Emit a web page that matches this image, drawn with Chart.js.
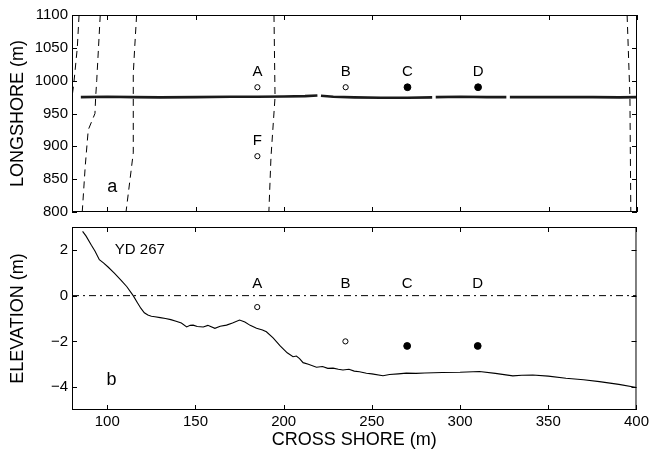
<!DOCTYPE html>
<html>
<head>
<meta charset="utf-8">
<script src="https://cdn.jsdelivr.net/npm/chart.js@4.4.0/dist/chart.umd.min.js"></script>
<style>
  html, body { margin: 0; padding: 0; background: #fff; }
  #wrap { position: relative; width: 652px; height: 451px; }
  #topBox { position: absolute; left: 0; top: 0; width: 652px; height: 225px; }
  #botBox { position: absolute; left: 0; top: 214px; width: 652px; height: 237px; }
</style>
</head>
<body>
<div id="wrap">
  <div id="topBox"><canvas id="topChart"></canvas></div>
  <div id="botBox"><canvas id="botChart"></canvas></div>
</div>
<script>
// --- DATA ---
const xTicks = [100, 150, 200, 250, 300, 350, 400];
const yTicksTop = [800, 850, 900, 950, 1000, 1050, 1100];
const yTicksBottom = [-4, -2, 0, 2];

// panel a: shoreline trace (gaps where the record drops out)
const shoreline = [[85, 975], [100, 975.5], [115, 975], [130, 974.5], [150, 975], [170, 975.5], [185, 975.5],
    [200, 976], [212, 976.5], [219, 977.5], [null, null], [221, 977], [228, 975.5], [240, 974.5], [255, 974],
    [270, 974], [284, 974.5], [null, null], [286, 975], [300, 975.5], [315, 975], [326, 975], [null, null],
    [328, 975], [345, 975], [360, 975], [375, 975], [390, 974.5], [400, 975]];

// panel a: dashed contours
const dash1 = [[84, 1100], [83, 1050], [81, 995], [80, 975]];
const dash2 = [[96, 1100], [95, 1050], [94, 1000], [93.4, 975], [93, 950], [89.2, 925], [87.5, 870], [85.8, 800]];
const dash3 = [[116.6, 1100], [115.5, 1050], [114.7, 1010], [114.7, 890], [110.6, 800]];
const dash4 = [[194.4, 1100], [195, 975], [192.7, 884], [191.5, 800]];
const dash5 = [[394.4, 1100], [396, 975], [396.2, 900], [396.5, 800]];

// panel a: instruments
const openTop = [[185, 990], [235, 990], [185, 885]];
const filledTop = [[270, 990], [310, 990]];
const labelsTop = ['A', 'B', 'C', 'D', 'F'];
const labelsTopX = [185, 235, 270, 310, 185];
const labelsTopY = [1014, 1014, 1014, 1014, 909];

// panel b: beach profile YD 267
const profile = [[86, 2.81], [88, 2.6], [91, 2.2], [93, 1.95], [95.5, 1.57], [98, 1.42], [100.6, 1.24], [104, 0.98],
    [108, 0.66], [111, 0.4], [114.7, 0.0], [117, -0.3], [119, -0.55], [121, -0.75], [123, -0.85], [125, -0.9],
    [127, -0.92], [130, -0.96], [133, -1.0], [136, -1.05], [139, -1.12], [142, -1.2], [145, -1.37], [147, -1.3],
    [148.7, -1.29], [151, -1.35], [154.4, -1.37], [157, -1.3], [161, -1.43], [164, -1.34], [167.6, -1.29],
    [171, -1.2], [175, -1.07], [178, -1.15], [181, -1.3], [184.6, -1.43], [188, -1.5], [190.2, -1.58],
    [194, -1.85], [198, -2.2], [202, -2.5], [205.3, -2.67], [207.2, -2.64], [209, -2.75], [211, -2.93],
    [214, -3.0], [218.6, -3.13], [222, -3.1], [225, -3.18], [228, -3.17], [231, -3.22], [233.6, -3.25],
    [237, -3.22], [240, -3.3], [243, -3.33], [246.9, -3.39], [250, -3.42], [256.3, -3.5], [260, -3.45],
    [265, -3.42], [269.5, -3.39], [275, -3.4], [280, -3.38], [290, -3.36], [300, -3.35], [311, -3.32],
    [320, -3.4], [329.9, -3.51], [335, -3.48], [341.2, -3.47], [350, -3.52], [360, -3.61], [370, -3.68],
    [379, -3.76], [390, -3.88], [400, -4.02]];
const meanLevel = [[80, 0], [400, 0]];
const openBot = [[185, -0.5], [235, -2.0]];
const filledBot = [[270, -2.2], [310, -2.2]];
const labelsBot = ['A', 'B', 'C', 'D'];
const labelsBotX = [185, 235, 270, 310];
const labelsBotY = [0.52, 0.52, 0.52, 0.52];

// --- HELPERS ---
const FONT = '"Liberation Sans", Arial, Helvetica, sans-serif';
const INK = '#000';

function pts(list) {
    return list.map(p => ({ x: p[0], y: p[1] }));
}

function makeLabels(texts, xs, ys, size) {
    return texts.map((t, i) => ({ text: t, x: xs[i], y: ys[i], size: size || 15, align: 'center' }));
}

function setTicks(values) {
    return function (scale) {
        scale.ticks = values.map(v => ({ value: v }));
    };
}

function minus(v) {
    return String(v).replace('-', '\u2212');
}

// frame, inward ticks and text annotations
const framePlugin = {
    id: 'frame',
    afterDraw(chart, args, opts) {
        const { ctx, chartArea: a, scales } = chart;
        const x = scales.x, y = scales.y;
        const tl = 5;
        ctx.save();
        ctx.strokeStyle = INK;
        ctx.lineWidth = 1;
        ctx.strokeRect(a.left + 0.5, a.top + 0.5, a.right - a.left - 1, a.bottom - a.top - 1);
        ctx.beginPath();
        xTicks.forEach(v => {
            const px = Math.round(x.getPixelForValue(v)) + 0.5;
            ctx.moveTo(px, a.bottom); ctx.lineTo(px, a.bottom - tl);
            ctx.moveTo(px, a.top); ctx.lineTo(px, a.top + tl);
        });
        (opts.yTicks || []).forEach(v => {
            const py = Math.round(y.getPixelForValue(v)) + 0.5;
            ctx.moveTo(a.left, py); ctx.lineTo(a.left + tl, py);
            ctx.moveTo(a.right, py); ctx.lineTo(a.right - tl, py);
        });
        ctx.stroke();

        ctx.fillStyle = INK;
        ctx.textBaseline = 'middle';
        (opts.labels || []).forEach(l => {
            ctx.font = l.size + 'px ' + FONT;
            ctx.textAlign = l.align;
            ctx.fillText(l.text, x.getPixelForValue(l.x), y.getPixelForValue(l.y));
        });
        ctx.restore();
    }
};

function lineSet(data, opts) {
    return Object.assign({
        type: 'line',
        data: pts(data),
        borderColor: INK,
        borderWidth: 1,
        pointRadius: 0,
        fill: false,
        tension: 0,
        spanGaps: false
    }, opts || {});
}

function dotSet(data, filled) {
    return {
        type: 'scatter',
        data: pts(data),
        pointRadius: filled ? 3.4 : 2.6,
        pointBorderWidth: 1,
        pointBorderColor: INK,
        pointBackgroundColor: filled ? INK : '#fff',
        pointHoverRadius: 0
    };
}

function yAxis(min, max, ticks, title) {
    return {
        type: 'linear',
        min: min,
        max: max,
        afterBuildTicks: setTicks(ticks),
        afterFit: s => { s.width = 72; },
        grid: { display: false, drawTicks: false },
        border: { display: false },
        ticks: {
            color: INK,
            padding: 4,
            font: { family: FONT, size: 15 },
            callback: v => minus(v)
        },
        title: {
            display: true,
            text: title,
            color: INK,
            font: { family: FONT, size: 18 },
            padding: { top: 7, bottom: 0 }
        }
    };
}

Chart.defaults.animation = false;
Chart.defaults.font.family = FONT;

// --- PANEL A ---
new Chart(document.getElementById('topChart'), {
    type: 'scatter',
    data: {
        datasets: [
            lineSet(shoreline, { borderWidth: 2.6, borderColor: '#1a1a1a' }),
            lineSet(dash1, { borderDash: [7, 5] }),
            lineSet(dash2, { borderDash: [7, 5] }),
            lineSet(dash3, { borderDash: [7, 5] }),
            lineSet(dash4, { borderDash: [7, 5] }),
            lineSet(dash5, { borderDash: [7, 5] }),
            dotSet(openTop, false),
            dotSet(filledTop, true)
        ]
    },
    options: {
        responsive: true,
        maintainAspectRatio: false,
        layout: { padding: { left: 0, top: 15, right: 15, bottom: 10 } },
        plugins: {
            legend: { display: false },
            tooltip: { enabled: false },
            frame: {
                yTicks: yTicksTop,
                labels: makeLabels(labelsTop, labelsTopX, labelsTopY, 15)
                    .concat([{ text: 'a', x: 102.8, y: 838, size: 18, align: 'center' }])
            }
        },
        scales: {
            x: { type: 'linear', min: 80, max: 400, display: false, afterBuildTicks: setTicks(xTicks) },
            y: yAxis(800, 1100, yTicksTop, 'LONGSHORE (m)')
        }
    },
    plugins: [framePlugin]
});

// --- PANEL B ---
new Chart(document.getElementById('botChart'), {
    type: 'scatter',
    data: {
        datasets: [
            lineSet(meanLevel, { borderDash: [7, 4, 2, 4] }),
            lineSet(profile, { borderWidth: 1.1 }),
            dotSet(openBot, false),
            dotSet(filledBot, true)
        ]
    },
    options: {
        responsive: true,
        maintainAspectRatio: false,
        layout: { padding: { left: 0, top: 13, right: 15, bottom: 0 } },
        plugins: {
            legend: { display: false },
            tooltip: { enabled: false },
            frame: {
                yTicks: yTicksBottom,
                labels: makeLabels(labelsBot, labelsBotX, labelsBotY, 15).concat([
                    { text: 'YD 267', x: 104.3, y: 2.0, size: 15, align: 'left' },
                    { text: 'b', x: 102.4, y: -3.7, size: 18, align: 'center' }
                ])
            }
        },
        scales: {
            x: {
                type: 'linear',
                min: 80,
                max: 400,
                afterBuildTicks: setTicks(xTicks),
                afterFit: s => { s.height = 41; },
                grid: { display: false, drawTicks: false },
                border: { display: false },
                ticks: {
                    color: INK,
                    padding: 3,
                    maxRotation: 0,
                    font: { family: FONT, size: 15 }
                },
                title: {
                    display: true,
                    text: 'CROSS SHORE (m)',
                    color: INK,
                    font: { family: FONT, size: 18 },
                    padding: { top: 0, bottom: 0 }
                }
            },
            y: yAxis(-5, 3, yTicksBottom, 'ELEVATION (m)')
        }
    },
    plugins: [framePlugin]
});
</script>
</body>
</html>
